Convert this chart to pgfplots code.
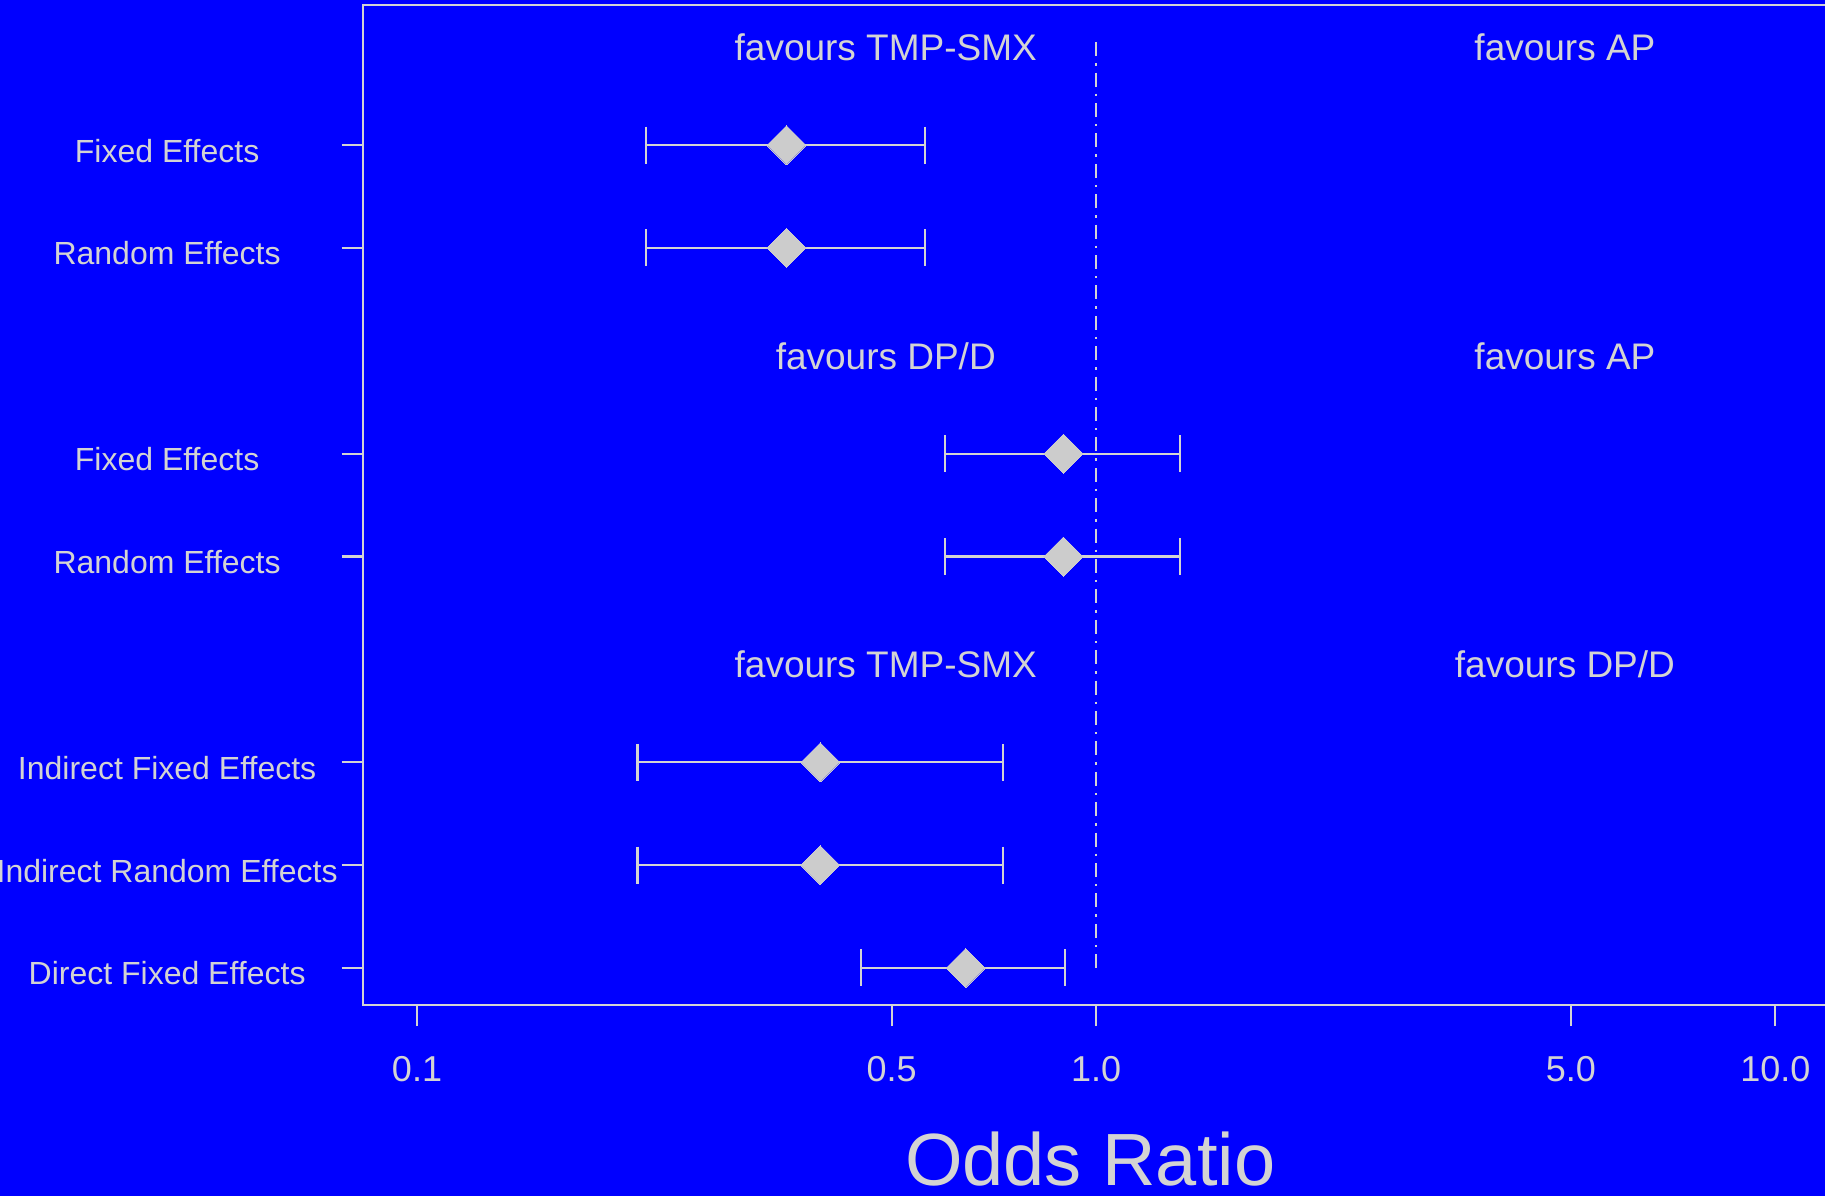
\documentclass[border=0pt]{standalone}
\usepackage{fontspec}
\setmainfont{Liberation Sans}
\usepackage{pgfplots}
\pgfplotsset{compat=1.18}
\definecolor{bg}{RGB}{0,0,255}
\definecolor{fg}{RGB}{211,211,211}
\definecolor{dia}{RGB}{204,204,204}
\begin{document}
\begin{tikzpicture}
\fill[bg] (-181.35pt,-95.5pt) rectangle (731.15pt,502.5pt);
\begin{axis}[
  at={(0,0)}, anchor=south west,
  scale only axis, width=733.5pt, height=499.9pt,
  xmode=log, xmin=0.08318, xmax=12.023, ymin=0.64, ymax=10.36,
  axis line style={fg, line width=1.1pt},
  every tick/.style={fg, line width=1.1pt},
  tick align=outside, major tick length=10.5pt,
  xminorticks=false,
  xtick={0.1,0.5,1,5,10}, xticklabels={0.1,0.5,1.0,5.0,10.0},
  xtick pos=bottom, ytick pos=left,
  ytick={1,2,3,5,6,8,9},
  yticklabels={Direct Fixed Effects, Indirect Random Effects, Indirect Fixed Effects, Random Effects, Fixed Effects, Random Effects, Fixed Effects},
  yticklabel style={fg, anchor=base, font=\fontsize{16}{19}\selectfont, xshift=-87.3pt, yshift=-8.5pt},
  xticklabel style={fg, anchor=base, font=\fontsize{18}{21}\selectfont, yshift=-27.5pt},
  /pgf/number format/assume math mode=true,
  xlabel={Odds Ratio},
  xlabel style={fg, at={(axis description cs:0.5,0)}, anchor=base, inner sep=0pt, outer sep=0pt, xshift=-3pt, yshift=-90pt, font=\fontsize{37}{44}\selectfont},
  clip=false,
]
% confidence intervals
\addplot[fg, line width=1.1pt, mark=|, mark size=9.25pt, mark options={solid}] coordinates {(0.2173,9) (0.5590,9)};
\addplot[fg, line width=1.1pt, mark=|, mark size=9.25pt, mark options={solid}] coordinates {(0.2173,8) (0.5590,8)};
\addplot[fg, line width=1.1pt, mark=|, mark size=9.25pt, mark options={solid}] coordinates {(0.599,6) (1.328,6)};
\addplot[fg, line width=1.1pt, mark=|, mark size=9.25pt, mark options={solid}] coordinates {(0.599,5) (1.328,5)};
\addplot[fg, line width=1.1pt, mark=|, mark size=9.25pt, mark options={solid}] coordinates {(0.2112,3) (0.7283,3)};
\addplot[fg, line width=1.1pt, mark=|, mark size=9.25pt, mark options={solid}] coordinates {(0.2112,2) (0.7283,2)};
\addplot[fg, line width=1.1pt, mark=|, mark size=9.25pt, mark options={solid}] coordinates {(0.451,1) (0.900,1)};
% reference line
\addplot[fg, line width=1.1pt, dash pattern=on 7pt off 3.5pt on 1.2pt off 3.5pt] coordinates {(1,10) (1,1)};
% point estimates
\addplot[only marks, mark=square*, mark size=6.9pt, mark options={rotate=45, fill=dia, draw=dia, line width=0pt}] coordinates {(0.350,9) (0.350,8) (0.895,6) (0.895,5) (0.3925,3) (0.3925,2) (0.6425,1)};
% annotations
\node[fg, anchor=base, yshift=-9.25pt, font=\fontsize{18.5}{22}\selectfont] at (axis cs:0.49,10) {favours TMP-SMX};
\node[fg, anchor=base, yshift=-9.25pt, font=\fontsize{18.5}{22}\selectfont] at (axis cs:4.9,10) {favours AP};
\node[fg, anchor=base, yshift=-9.25pt, font=\fontsize{18.5}{22}\selectfont] at (axis cs:0.49,7) {favours DP/D};
\node[fg, anchor=base, yshift=-9.25pt, font=\fontsize{18.5}{22}\selectfont] at (axis cs:4.9,7) {favours AP};
\node[fg, anchor=base, yshift=-9.25pt, font=\fontsize{18.5}{22}\selectfont] at (axis cs:0.49,4) {favours TMP-SMX};
\node[fg, anchor=base, yshift=-9.25pt, font=\fontsize{18.5}{22}\selectfont] at (axis cs:4.9,4) {favours DP/D};
\end{axis}
\pgfresetboundingbox
\useasboundingbox (-181.35pt,-95.5pt) rectangle (731.15pt,502.5pt);
\end{tikzpicture}
\end{document}
